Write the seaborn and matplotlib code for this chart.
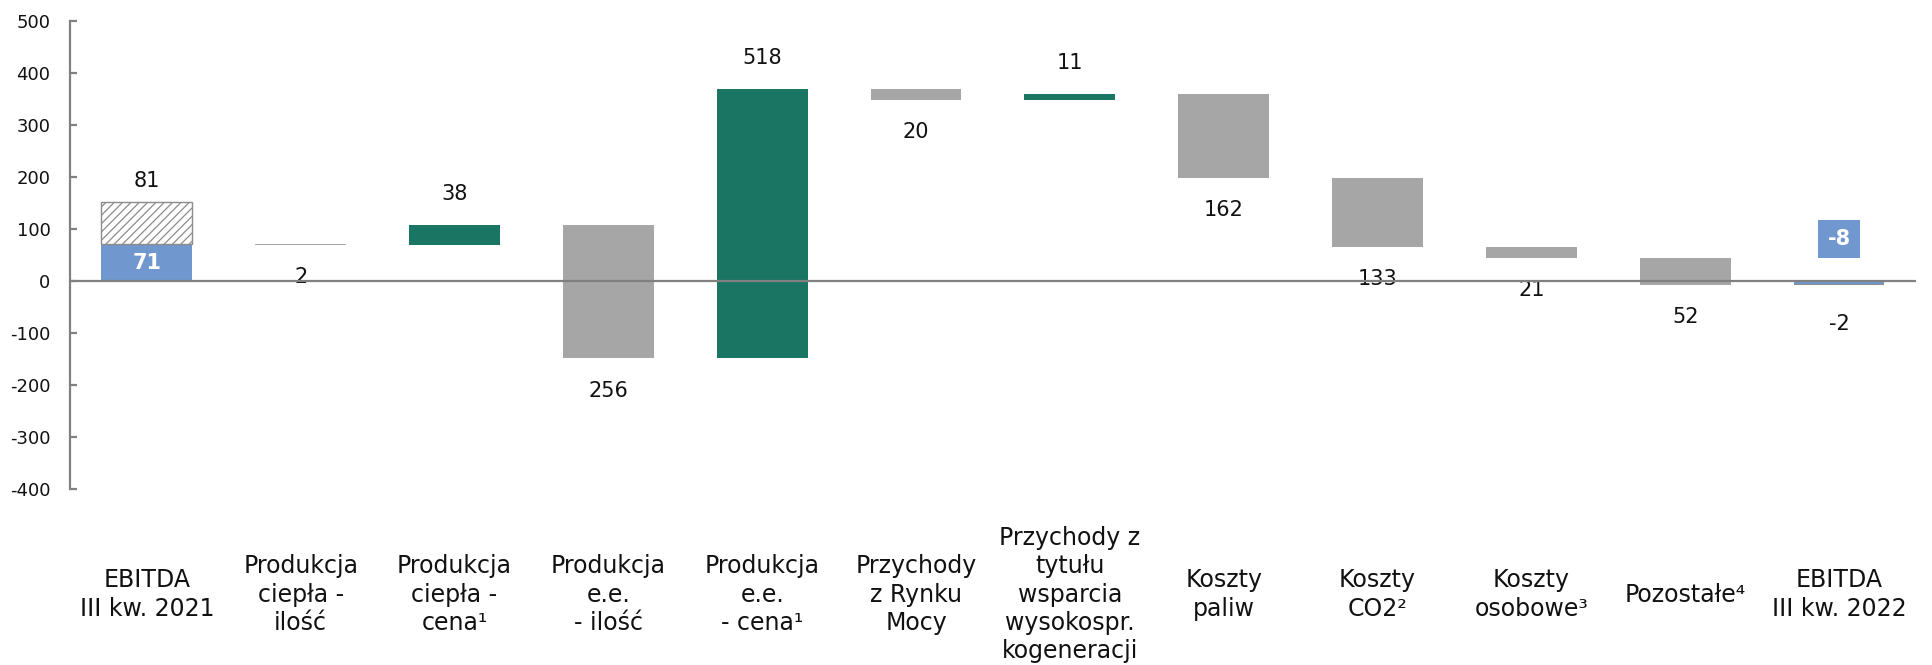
import numpy as np
import pandas as pd
import matplotlib
matplotlib.use("Agg")
import matplotlib.pyplot as plt
import seaborn as sns

# ---------------- data ----------------
categories = [
    "EBITDA\nIII kw. 2021",
    "Produkcja\nciepła -\nilość",
    "Produkcja\nciepła -\ncena¹",
    "Produkcja\ne.e.\n- ilość",
    "Produkcja\ne.e.\n- cena¹",
    "Przychody\nz Rynku\nMocy",
    "Przychody z\ntytułu\nwsparcia\nwysokospr.\nkogeneracji",
    "Koszty\npaliw",
    "Koszty\nCO2²",
    "Koszty\nosobowe³",
    "Pozostałe⁴",
    "EBITDA\nIII kw. 2022",
]
ebitda_2021 = 71
one_off_2021 = 81
changes = [-2, 38, -256, 518, -20, 11, -162, -133, -21, -52]
change_labels = ["2", "38", "256", "518", "20", "11", "162", "133", "21", "52"]
ebitda_2022 = -8
one_off_2022 = -2
y_ticks = [500, 400, 300, 200, 100, 0, -100, -200, -300, -400]

# ---------------- styles ----------------
BLUE = "#7097CE"
GREEN = "#1A7563"
GREY = "#A6A6A6"
AXIS = "#808080"

sns.set_theme(style="white")
plt.rcParams["font.family"] = ["DejaVu Sans"]
plt.rcParams["hatch.linewidth"] = 0.9

# waterfall geometry from data
bottoms, heights, colors = [0], [ebitda_2021], [BLUE]
level = ebitda_2021
for c in changes:
    bottoms.append(level)
    heights.append(c)
    colors.append(GREEN if c > 0 else GREY)
    level += c
bottoms.append(0)
heights.append(ebitda_2022 - one_off_2022)
colors.append(BLUE)

df = pd.DataFrame({"cat": categories, "height": heights})

fig = plt.figure(figsize=(19.32, 6.65), dpi=100)
ax = fig.add_axes([0.0362, 0.2647, 0.9555, 0.7037])

W = 0.59
sns.barplot(data=df, x="cat", y="height", order=categories, bottom=bottoms,
            color=GREY, saturation=1, width=W, errorbar=None, ax=ax,
            linewidth=0)
for p, col in zip(ax.patches, colors):
    p.set_facecolor(col)

# extra segments: one-off (hatched) in 2021, grey piece in 2022
extra = pd.DataFrame({"cat": [categories[0], categories[-1]],
                      "height": [one_off_2021, one_off_2022]})
n0 = len(ax.patches)
sns.barplot(data=extra, x="cat", y="height", order=categories,
            bottom=[ebitda_2021, ebitda_2022 - one_off_2022],
            color=GREY, saturation=1, width=W, errorbar=None, ax=ax,
            linewidth=0)
new = ax.patches[n0:]
new[0].set_facecolor("white")
new[0].set_edgecolor("#8C8C8C")
new[0].set_hatch("////")
new[0].set_linewidth(1.0)
new[1].set_facecolor("#8C8C8C")

# zero line
ax.axhline(0, color=AXIS, lw=1.6, zorder=5)

ax.set_xlim(-0.5, len(categories) - 0.5)
ax.set_ylim(-400, 500)
ax.set_yticks(y_ticks)
ax.set_yticklabels([str(v) for v in y_ticks])
ax.set_xlabel("")
ax.set_ylabel("")
for s in ["top", "right", "bottom"]:
    ax.spines[s].set_visible(False)
ax.spines["left"].set_color(AXIS)
ax.spines["left"].set_linewidth(1.6)
ax.tick_params(axis="y", direction="in", length=5, width=1.6, color=AXIS,
               labelsize=13, pad=14, labelcolor="#111111", left=True)
ax.tick_params(axis="x", length=0, pad=76, labelsize=17, labelcolor="#111111")
for t in ax.get_xticklabels():
    t.set_verticalalignment("center")
    t.set_linespacing(1.23)
    t.set_multialignment("center")

# value labels
lab_kw = dict(ha="center", va="center", fontsize=15, color="#111111")
ax.text(0, ebitda_2021 + one_off_2021 + 40, str(one_off_2021), **lab_kw)
ax.text(0, ebitda_2021 / 2, str(ebitda_2021), ha="center", va="center",
        fontsize=15, color="white", fontweight="bold")
for i, (c, lab) in enumerate(zip(changes, change_labels), start=1):
    b = bottoms[i]
    if c > 0:
        ax.text(i, b + c + 60, lab, **lab_kw)
    else:
        ax.text(i, b + c - 62, lab, **lab_kw)
last = len(categories) - 1
ax.text(last, ebitda_2022 - 75, str(one_off_2022), **lab_kw)
ax.text(last, 81, str(ebitda_2022), ha="center", va="center", fontsize=15,
        color="white", fontweight="bold",
        bbox=dict(boxstyle="square,pad=0.45", fc=BLUE, ec="none"))

fig.savefig("out.png", dpi=100)
